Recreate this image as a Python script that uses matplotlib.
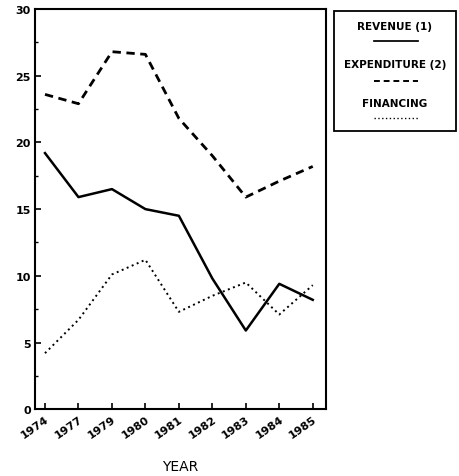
import matplotlib
matplotlib.use("Agg")
import matplotlib.pyplot as plt
from matplotlib.patches import Rectangle
from matplotlib.lines import Line2D

years = ['1974', '1977', '1979', '1980', '1981', '1982', '1983', '1984', '1985']
revenue = [19.2, 15.9, 16.5, 15.0, 14.5, 9.8, 5.9, 9.4, 8.2]
expenditure = [23.6, 22.9, 26.8, 26.6, 21.8, 19.0, 15.9, 17.1, 18.2]
financing = [4.2, 6.7, 10.1, 11.2, 7.3, 8.5, 9.5, 7.1, 9.3]

labels = ['REVENUE (1)', 'EXPENDITURE (2)', 'FINANCING']
styles = [dict(ls='-', lw=1.8), dict(ls=(0, (3, 2)), lw=2.0), dict(ls=(0, (1, 1.8)), lw=1.4)]

fig = plt.figure(figsize=(4.6, 4.77), dpi=100)
ax = fig.add_axes([0.076, 0.14, 0.633, 0.839])

x = list(range(len(years)))
for vals, st in zip([revenue, expenditure, financing], styles):
    ax.plot(x, vals, color='black', **st)

ax.set_xlim(-0.3, 8.4)
ax.set_ylim(0, 30)
ax.set_yticks([0, 5, 10, 15, 20, 25, 30])
ax.set_yticks([2.5, 7.5, 12.5, 17.5, 22.5, 27.5], minor=True)
ax.set_xticks(x)
ax.set_xticklabels(years, rotation=35, ha='right', rotation_mode='anchor',
                   fontsize=8, fontweight='bold')
for t in ax.get_yticklabels():
    t.set_fontsize(8)
    t.set_fontweight('bold')
ax.tick_params(direction='in', length=4, width=1.2, pad=3)
ax.tick_params(which='minor', direction='in', length=2, width=1)
for s in ax.spines.values():
    s.set_linewidth(1.5)
ax.set_xlabel('YEAR', fontsize=10, labelpad=14)

# legend box drawn by hand: label above its line sample
W, H = 460, 477
fig.patches.append(Rectangle((334 / W, 1 - 132 / H), 122 / W, 120 / H,
                             transform=fig.transFigure, fill=False,
                             lw=1.3, ec='black'))
text_y = [27, 65, 104]
line_y = [42, 82, 119]
for lab, st, ty, ly in zip(labels, styles, text_y, line_y):
    fig.text(395 / W, 1 - ty / H, lab, ha='center', va='center',
             fontsize=7.5, fontweight='bold')
    fig.lines.append(Line2D([374 / W, 418 / W], [1 - ly / H, 1 - ly / H],
                            transform=fig.transFigure, color='black',
                            ls=st['ls'], lw=st['lw'] * 0.7))

fig.savefig('out.png', dpi=100)
